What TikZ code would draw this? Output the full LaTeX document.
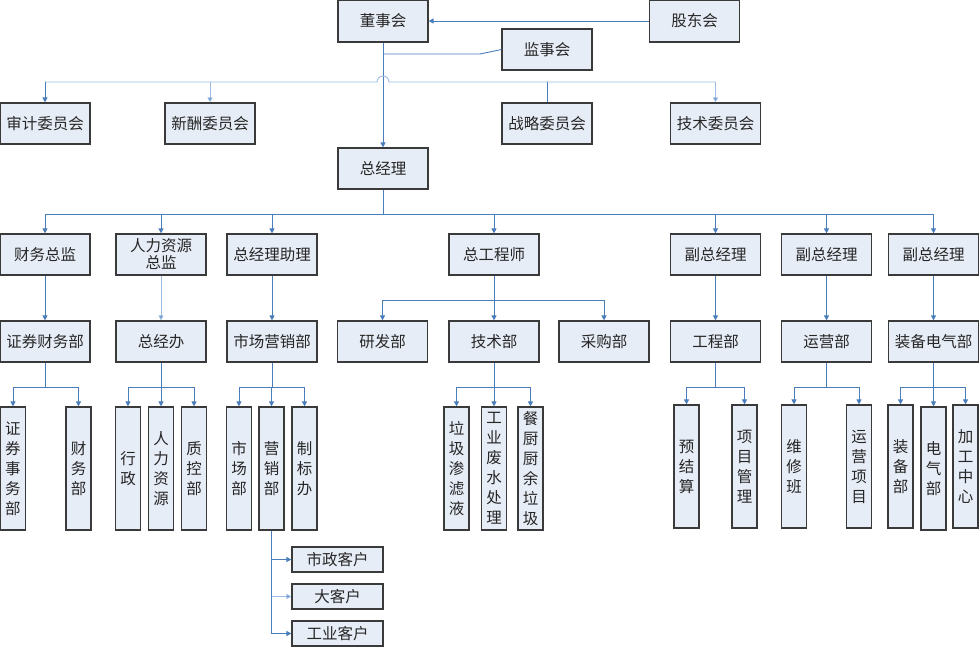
\documentclass[tikz,border=0pt]{standalone}
\usepackage{fontspec}
\newfontfamily\cjk{Noto Sans CJK SC}
\usetikzlibrary{arrows.meta}
\definecolor{boxfill}{HTML}{E7EDF7}
\definecolor{boxline}{HTML}{3A3A3A}
\definecolor{linkc}{HTML}{4A7EBB}
\definecolor{linklight}{HTML}{9DBCE3}
\tikzset{
  orgbox/.style={draw=boxline, fill=boxfill, line width=1.2pt, inner sep=0pt,
    minimum width=90pt, minimum height=41pt, align=center,
    font=\cjk\fontsize{15.5}{17}\selectfont, text=black!85},
  vbox/.style={orgbox, minimum width=25pt, minimum height=123pt,
    font=\cjk\fontsize{15.5}{20}\selectfont},
  cbox/.style={orgbox, minimum width=91pt, minimum height=25pt},
  link/.style={draw=linkc, line width=0.9pt},
  lightlink/.style={draw=linklight, line width=0.9pt},
  arr/.style={link, -{Triangle[length=5pt,width=5pt]}},
  lightarr/.style={lightlink, -{Triangle[length=5pt,width=5pt,fill=linkc]}},
}
\begin{document}
\begin{tikzpicture}[x=1pt,y=-1pt]
\useasboundingbox (0,0) rectangle (979,646);
% top
\node[orgbox, minimum height=42pt] (dongshi) at (383,21) {董事会};
\node[orgbox, minimum height=42pt] (gudong) at (694.5,21) {股东会};
\node[orgbox] (jianshi) at (547,49.5) {监事会};
\node[orgbox] (shenji) at (45,123.5) {审计委员会};
\node[orgbox] (xinchou) at (210,123.5) {新酬委员会};
\node[orgbox] (zhanlue) at (547,123.5) {战略委员会};
\node[orgbox] (jswy) at (715.5,123.5) {技术委员会};
\node[orgbox] (zjl) at (383,168.5) {总经理};
% level 2
\node[orgbox] (cwzj) at (45,254.5) {财务总监};
\node[orgbox] (rlzj) at (161,254.5) {人力资源\\总监};
\node[orgbox] (zjlzl) at (272,254.5) {总经理助理};
\node[orgbox] (zgcs) at (494,254.5) {总工程师};
\node[orgbox] (fz1) at (715.5,254.5) {副总经理};
\node[orgbox] (fz2) at (826.5,254.5) {副总经理};
\node[orgbox] (fz3) at (933.5,254.5) {副总经理};
% level 3
\node[orgbox] (zqcw) at (45,341.5) {证券财务部};
\node[orgbox] (zjb) at (161,341.5) {总经办};
\node[orgbox] (scyx) at (272,341.5) {市场营销部};
\node[orgbox] (yfb) at (382.5,341.5) {研发部};
\node[orgbox] (jsb) at (494,341.5) {技术部};
\node[orgbox] (cgb) at (604,341.5) {采购部};
\node[orgbox] (gcb) at (715.5,341.5) {工程部};
\node[orgbox] (yyb) at (826.5,341.5) {运营部};
\node[orgbox] (zbdq) at (933.5,341.5) {装备电气部};
% level 4
\node[vbox] (zqsw) at (13,468.5) {证\\券\\事\\务\\部};
\node[vbox] (cwb) at (78.5,468.5) {财\\务\\部};
\node[vbox] (xz) at (128,468.5) {行\\政};
\node[vbox] (rlzy) at (161,468.5) {人\\力\\资\\源};
\node[vbox] (zkb) at (194,468.5) {质\\控\\部};
\node[vbox] (scb) at (239,468.5) {市\\场\\部};
\node[vbox] (yxb) at (271.5,468.5) {营\\销\\部};
\node[vbox] (zbb) at (304.5,468.5) {制\\标\\办};
\node[vbox] (ljsl) at (456.5,468.5) {垃\\圾\\渗\\滤\\液};
\node[vbox] (gyfs) at (494,468.5) {工\\业\\废\\水\\处\\理};
\node[vbox] (cccy) at (530.5,468.5) {餐\\厨\\厨\\余\\垃\\圾};
\node[vbox] (yjs) at (686.5,466.5) {预\\结\\算};
\node[vbox] (xmgl) at (744.5,466.5) {项\\目\\管\\理};
\node[vbox] (wxb) at (794,466.5) {维\\修\\班};
\node[vbox] (yyxm) at (859,466.5) {运\\营\\项\\目};
\node[vbox] (zbbu) at (900.5,466.5) {装\\备\\部};
\node[vbox] (dqb) at (933.5,468.5) {电\\气\\部};
\node[vbox] (jgzx) at (965.5,466.5) {加\\工\\中\\心};
% customers
\node[cbox] (szkh) at (337.5,559.5) {市政客户};
\node[cbox] (dkh) at (337.5,596.5) {大客户};
\node[cbox] (gykh) at (337.5,633.5) {工业客户};

% connectors: top
\draw[arr] (gudong.west) -- (dongshi.east);
\coordinate (jj) at (480,54);
\draw[link] (jianshi.west) -- (jj) -- (dongshi.south |- jj);
\draw[arr] (dongshi.south) -- (zjl.north);
% committee bar with hop
\coordinate (cb) at (0,82);
\draw[lightlink] (shenji.north |- cb) -- ([xshift=-6pt]dongshi.south |- cb)
  arc[start angle=180,end angle=0,radius=6pt] -- (jswy.north |- cb);
\draw[arr] (shenji.north |- cb) -- (shenji.north);
\draw[lightarr] (xinchou.north |- cb) -- (xinchou.north);
\draw[link] (zhanlue.north |- cb) -- (zhanlue.north);
\draw[lightarr] (jswy.north |- cb) -- (jswy.north);
% level 1 -> level 2
\coordinate (b2) at (0,214);
\draw[link] (zjl.south) -- (zjl.south |- b2);
\draw[link] (cwzj.north |- b2) -- (fz3.north |- b2);
\foreach \n in {cwzj,rlzj,zjlzl,zgcs,fz1,fz2,fz3}
  \draw[arr] (\n.north |- b2) -- (\n.north);
% level 2 -> level 3
\draw[arr] (cwzj) -- (zqcw);
\draw[lightarr] (rlzj) -- (zjb);
\draw[arr] (zjlzl) -- (scyx);
\draw[arr] (fz1) -- (gcb);
\draw[arr] (fz2) -- (yyb);
\draw[arr] (fz3) -- (zbdq);
\coordinate (b3) at (0,300);
\draw[arr] (zgcs) -- (jsb);
\draw[link] (yfb.north |- b3) -- (cgb.north |- b3);
\draw[arr] (yfb.north |- b3) -- (yfb.north);
\draw[arr] (cgb.north |- b3) -- (cgb.north);
% level 3 -> level 4
\coordinate (b4) at (0,387);
\draw[link] (zqcw.south) -- (zqcw.south |- b4);
\draw[link] (zqsw.north |- b4) -- (cwb.north |- b4);
\foreach \n in {zqsw,cwb} \draw[arr] (\n.north |- b4) -- (\n.north);
\draw[link] (zjb.south) -- (zjb.south |- b4);
\draw[link] (xz.north |- b4) -- (zkb.north |- b4);
\foreach \n in {xz,rlzy,zkb} \draw[arr] (\n.north |- b4) -- (\n.north);
\draw[link] (scyx.south) -- (scyx.south |- b4);
\draw[link] (scb.north |- b4) -- (zbb.north |- b4);
\foreach \n in {scb,yxb,zbb} \draw[arr] (\n.north |- b4) -- (\n.north);
\draw[link] (jsb.south) -- (jsb.south |- b4);
\draw[link] (ljsl.north |- b4) -- (cccy.north |- b4);
\foreach \n in {ljsl,gyfs,cccy} \draw[arr] (\n.north |- b4) -- (\n.north);
\draw[link] (gcb.south) -- (gcb.south |- b4);
\draw[link] (yjs.north |- b4) -- (xmgl.north |- b4);
\foreach \n in {yjs,xmgl} \draw[arr] (\n.north |- b4) -- (\n.north);
\draw[link] (yyb.south) -- (yyb.south |- b4);
\draw[link] (wxb.north |- b4) -- (yyxm.north |- b4);
\foreach \n in {wxb,yyxm} \draw[arr] (\n.north |- b4) -- (\n.north);
\draw[link] (zbdq.south) -- (zbdq.south |- b4);
\draw[link] (zbbu.north |- b4) -- (jgzx.north |- b4);
\foreach \n in {zbbu,dqb,jgzx} \draw[arr] (\n.north |- b4) -- (\n.north);
% 营销部 -> customers
\draw[link] (yxb.south) -- (yxb.south |- gykh.west);
\draw[arr] (yxb.south |- szkh.west) -- (szkh.west);
\draw[lightarr] (yxb.south |- dkh.west) -- (dkh.west);
\draw[arr] (yxb.south |- gykh.west) -- (gykh.west);
\end{tikzpicture}
\end{document}
